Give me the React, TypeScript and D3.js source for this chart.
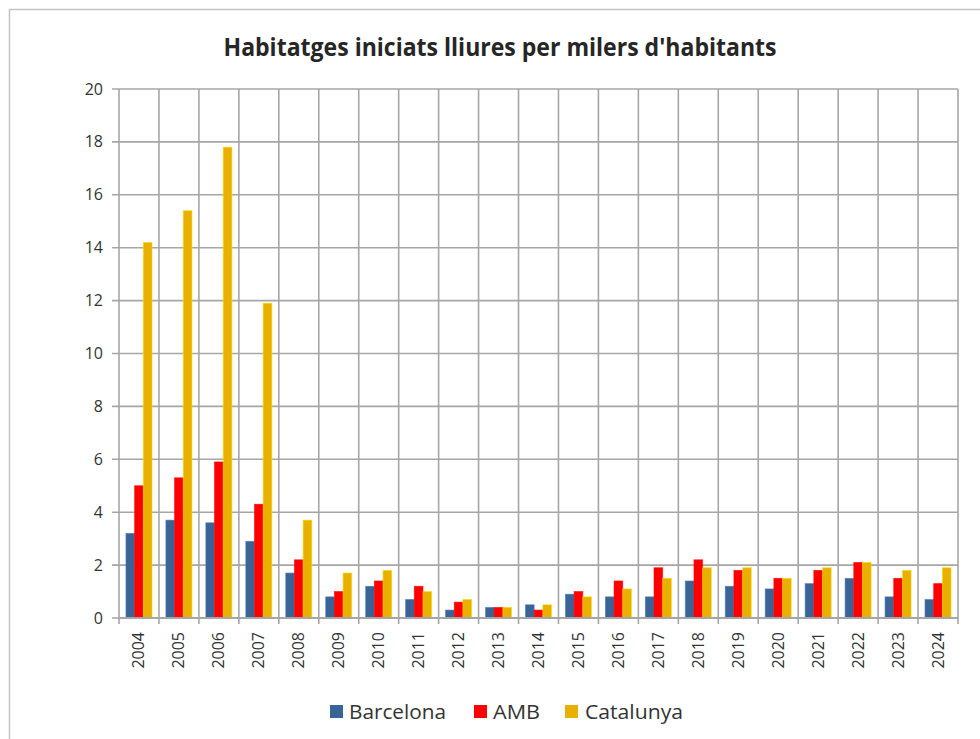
import React from "react";
import * as d3 from "d3";

const years = ["2004","2005","2006","2007","2008","2009","2010","2011","2012","2013","2014","2015","2016","2017","2018","2019","2020","2021","2022","2023","2024"];
const barcelona = [3.2,3.7,3.6,2.9,1.7,0.8,1.2,0.7,0.3,0.4,0.5,0.9,0.8,0.8,1.4,1.2,1.1,1.3,1.5,0.8,0.7];
const amb = [5.0,5.3,5.9,4.3,2.2,1.0,1.4,1.2,0.6,0.4,0.3,1.0,1.4,1.9,2.2,1.8,1.5,1.8,2.1,1.5,1.3];
const catalunya = [14.2,15.4,17.8,11.9,3.7,1.7,1.8,1.0,0.7,0.4,0.5,0.8,1.1,1.5,1.9,1.9,1.5,1.9,2.1,1.8,1.9];
const seriesNames = ["Barcelona","AMB","Catalunya"];
const seriesColors = ["#3a6496","#ff0000","#e8b000"];
const yTicks = [0,2,4,6,8,10,12,14,16,18,20];

export default function App() {
  const W = 980, H = 739;
  const left = 119, right = 958, top = 89, bottom = 618;
  const x = d3.scaleBand().domain(years).range([left, right]);
  const y = d3.scaleLinear().domain([0, 20]).range([bottom, top]);
  const inner = d3.scaleBand().domain(seriesNames).range([0, x.bandwidth()]).paddingInner(0).paddingOuter(0.8);
  const data = [barcelona, amb, catalunya];
  const font = "'Open Sans', sans-serif";
  const grid = "#a6a6a6";
  const txt = "#333333";
  const legendItems = [
    { name: "Barcelona", sx: 330, tx: 349, w: 97 },
    { name: "AMB", sx: 474, tx: 493, w: 47 },
    { name: "Catalunya", sx: 565, tx: 585, w: 98 },
  ];
  return (
    <svg width={W} height={H} style={{ position: "absolute", left: 0, top: 0, background: "#fff" }} fontFamily={font}>
      <rect x={0} y={0} width={W} height={H} fill="#fff" />
      <line x1={9.5} y1={9} x2={9.5} y2={H} stroke="#c4c4c4" strokeWidth={1.5} />
      <line x1={9} y1={9.5} x2={W} y2={9.5} stroke="#c4c4c4" strokeWidth={1.5} />
      <text x={500} y={56} textAnchor="middle" fontSize={24.5} fontWeight="bold" fill="#262626" textLength={553} lengthAdjust="spacingAndGlyphs">Habitatges iniciats lliures per milers d'habitants</text>
      {yTicks.map(t => (
        <g key={t}>
          <line x1={112} x2={right} y1={y(t)} y2={y(t)} stroke={grid} strokeWidth={1.6} />
          <text x={103} y={y(t) + 5.5} textAnchor="end" fontSize={16} fill={txt}>{t}</text>
        </g>
      ))}
      {years.map(yr => (
        <line key={yr} x1={x(yr)!} x2={x(yr)!} y1={top} y2={bottom + 6} stroke={grid} strokeWidth={1.6} />
      ))}
      <line x1={right} x2={right} y1={top} y2={bottom + 6} stroke={grid} strokeWidth={1.6} />
      {years.map((yr, i) => (
        <g key={yr}>
          {data.map((s, j) => (
            <rect key={j} x={x(yr)! + inner(seriesNames[j])!} y={y(s[i])} width={inner.bandwidth()} height={bottom - y(s[i])} fill={seriesColors[j]} stroke={d3.color(seriesColors[j])!.brighter(0.6).toString()} strokeWidth={0.8} strokeOpacity={0.7} />
          ))}
        </g>
      ))}
      <line x1={left} x2={right} y1={bottom} y2={bottom} stroke={grid} strokeWidth={1.8} />
      {years.map(yr => {
        const cx = x(yr)! + x.bandwidth() / 2;
        return (
          <text key={yr} transform={`translate(${cx + 5.5},632) rotate(-90)`} textAnchor="end" fontSize={16} fill={txt}>{yr}</text>
        );
      })}
      {legendItems.map((l, j) => (
        <g key={l.name}>
          <rect x={l.sx} y={705} width={13} height={13} fill={seriesColors[j]} />
          <text x={l.tx} y={719} fontSize={19.5} fill={txt} textLength={l.w} lengthAdjust="spacingAndGlyphs">{l.name}</text>
        </g>
      ))}
    </svg>
  );
}
